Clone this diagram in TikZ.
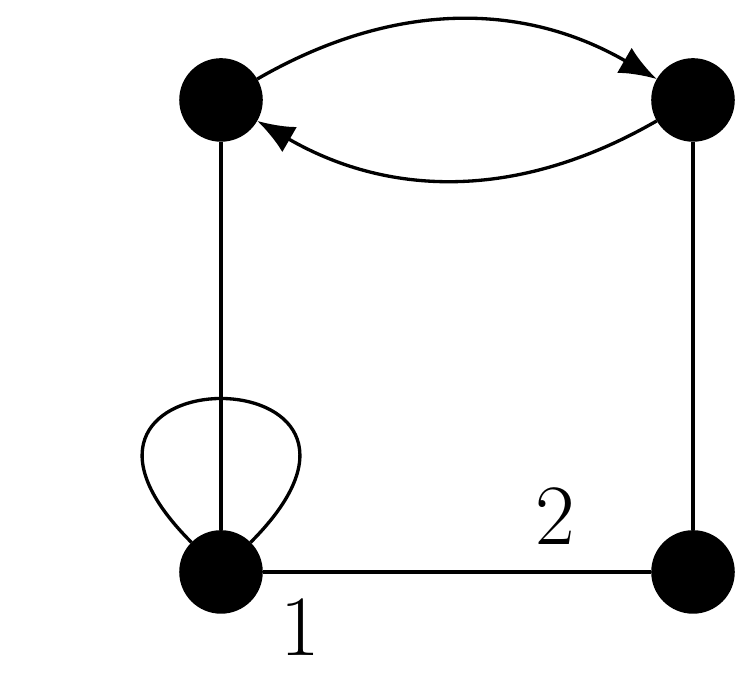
\documentclass[tikz,border=0pt]{standalone}
\usetikzlibrary{arrows.meta, positioning, calc}

\begin{document}
\begin{tikzpicture}[
    % Global Styles
    font=\huge,
    line width=0.8pt,
    % Vertex style
    vertex/.style={
        circle,
        draw=black,
        fill=black,
        inner sep=0pt,
        minimum size=0.68cm
    },
    % Plain edge style
    edge/.style={
        draw=black
    },
    % Directed edge style
    arc/.style={
        draw=black,
        -{Latex[length=9pt,width=7pt]}
    }
]
    \useasboundingbox (-1.873,-0.949) rectangle (4.356,4.847);

    % --- Vertices ---
    \node[vertex] (bl) at (0,0) {};
    \node[vertex] (br) at (4,0) {};
    \node[vertex] (tl) at (0,4) {};
    \node[vertex] (tr) at (4,4) {};

    % --- Edges ---
    \draw[edge] (tl) -- (bl);
    \draw[edge] (tr) -- (br);
    \draw[edge] (bl) -- (br);

    % Loop on bottom left
    \draw[edge] (bl) to[out=135, in=45, min distance=2.3cm] (bl);

    % Arcs between top vertices
    \draw[arc] (tl) to[bend left=30] (tr);
    \draw[arc] (tr) to[bend left=30] (tl);

    % --- Labels ---
    \node (one) at ($(bl)+(0.67,-0.47)$) {1};
    \node (two) at ($(bl)+(2.83,0.47)$) {2};

\end{tikzpicture}
\end{document}
